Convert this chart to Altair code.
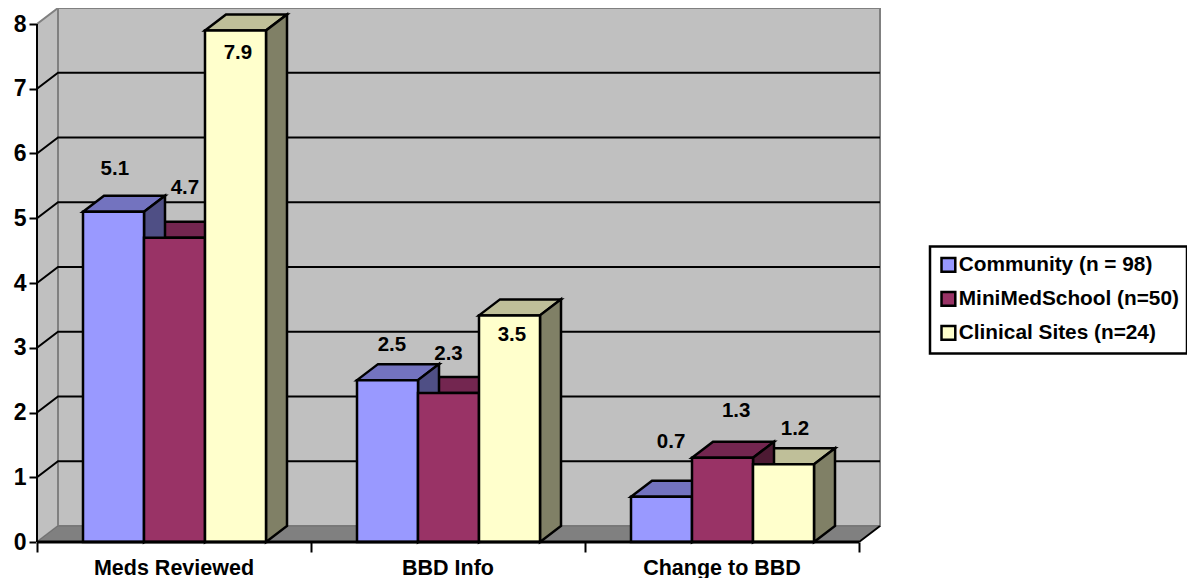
import altair as alt
import pandas as pd

categories = ["Meds Reviewed", "BBD Info", "Change to BBD"]
series = ["Community (n = 98)", "MiniMedSchool (n=50)", "Clinical Sites (n=24)"]
community = [5.1, 2.5, 0.7]
minimed = [4.7, 2.3, 1.3]
clinical = [7.9, 3.5, 1.2]
values = [community, minimed, clinical]
front_colors = ["#9999FF", "#993366", "#FFFFCC"]
top_colors = ["#7373BF", "#732650", "#BFBF99"]
side_colors = ["#4F4F85", "#4D1A33", "#808066"]
y_ticks = [0, 1, 2, 3, 4, 5, 6, 7, 8]
# label nudges (category units, value units) relative to the bar's top centre
label_nudge = {
    (0, 0): (0.005, 0.66), (0, 1): (0.038, 0.77), (0, 2): (0.009, -0.355),
    (1, 0): (0.016, 0.54), (1, 1): (0.0, 0.60), (1, 2): (0.009, -0.31),
    (2, 0): (0.035, 0.85), (2, 1): (0.05, 0.72), (2, 2): (0.042, 0.54),
}

PX_CAT = 274.0
PX_VAL = 64.75
DX = 21 / PX_CAT      # depth in x
DY = 16 / PX_VAL      # depth in y
BW = 61 / PX_CAT      # bar width
START = 46 / PX_CAT   # first bar offset in a category
XMAX = 3 + DX
YMAX = 8 + DY
W = 843
H = 534

x_scale = alt.Scale(domain=[0, XMAX], range=[0, W], nice=False, zero=False)
y_scale = alt.Scale(domain=[0, YMAX], range=[H, 0], nice=False, zero=False)
x_axis = alt.Axis(
    values=[0, 1, 2, 3], labels=False, title=None, domain=False, grid=False,
    ticks=True, tickSize=10, tickWidth=2, tickColor="black")
y_axis = alt.Axis(
    values=y_ticks, format="d", title=None, domain=False, grid=False,
    ticks=True, tickSize=8, tickWidth=2, tickColor="black", labelPadding=3,
    labelFont="Liberation Sans", labelFontWeight="bold", labelFontSize=23,
    labelColor="black")
X = alt.X("x:Q", scale=x_scale, axis=x_axis)
Y = alt.Y("y:Q", scale=y_scale, axis=y_axis)
Y2 = alt.Y2("y2:Q")


def poly_layer(rows, **mark):
    return alt.Chart(pd.DataFrame(rows)).mark_area(**mark).encode(
        x=X, y=Y, y2=Y2, detail="id:N",
        fill=alt.Fill("fill:N", scale=None),
    )


def band(pid, fill, pts):
    return [{"id": pid, "fill": fill, "x": a, "y": b, "y2": c} for a, b, c in pts]


# walls and floor
walls = []
walls += band("back", "#C0C0C0", [(DX, DY, YMAX), (XMAX, DY, YMAX)])
walls += band("side", "#C0C0C0", [(0, 0, 8), (DX, DY, YMAX)])
floor = band("floor", "#808080", [(0, 0, 0), (DX, 0, DY), (3, 0, DY), (XMAX, DY, DY)])

# gridlines
grid_rows = []
for t in y_ticks[1:-1]:
    grid_rows += [
        {"g": t, "x": 0, "y": t},
        {"g": t, "x": DX, "y": t + DY},
        {"g": t, "x": XMAX, "y": t + DY},
    ]
grid = alt.Chart(pd.DataFrame(grid_rows)).mark_line(color="black", strokeWidth=2).encode(
    x=X, y=Y, detail="g:N"
)

# bars
tops, sides, fronts, labels = [], [], [], []
for s, name in enumerate(series):
    for c in range(3):
        v = values[s][c]
        x0 = c + START + s * BW
        x1 = x0 + BW
        tops += band(f"t{s}{c}", top_colors[s], [(x0, v, v), (x0 + DX, v, v + DY), (x1, v, v + DY), (x1 + DX, v + DY, v + DY)])
        sides += band(f"s{s}{c}", side_colors[s], [(x1, 0, v), (x1 + DX, DY, v + DY)])
        fronts.append({"series": name, "x": x0, "x2": x1, "y": 0, "y2": v})
        nx, ny = label_nudge[(c, s)]
        labels.append({"x": (x0 + x1) / 2 + nx, "y": v + ny, "t": f"{v:.1f}"})

front_layer = alt.Chart(pd.DataFrame(fronts)).mark_rect(stroke="black", strokeWidth=2.5).encode(
    x=X, x2="x2:Q", y=Y, y2=Y2,
    color=alt.Color(
        "series:N",
        scale=alt.Scale(domain=series, range=front_colors),
        legend=alt.Legend(
            title=None, orient="none", legendX=893, legendY=238.5,
            fillColor="white", strokeColor="black", padding=8,
            symbolType="square", symbolSize=190, symbolStrokeColor="black",
            symbolStrokeWidth=2.5, symbolOpacity=1,
            labelFont="Liberation Sans", labelFontWeight="bold", labelFontSize=20.8,
            labelColor="black", labelOffset=0, rowPadding=9, labelLimit=400,
        ),
    ),
)

font = dict(font="Liberation Sans", fontWeight="bold", color="black")
label_layer = alt.Chart(pd.DataFrame(labels)).mark_text(fontSize=20.5, **font).encode(
    x=X, y=Y, text="t:N"
)

baseline = alt.Chart(pd.DataFrame({"x": [0], "x2": [3], "y": [0]})).mark_rule(
    color="black", strokeWidth=3).encode(x=X, x2="x2:Q", y=Y)
y_line = alt.Chart(pd.DataFrame({"x": [0], "y": [0], "y2": [8]})).mark_rule(
    color="black", strokeWidth=2).encode(x=X, y=Y, y2=Y2)
floor_edge = alt.Chart(pd.DataFrame({"x": [3, XMAX], "y": [0, DY]})).mark_line(
    color="black", strokeWidth=2).encode(x=X, y=Y)
cat_layer = alt.Chart(pd.DataFrame({
    "x": [0.5 + i for i in range(3)], "y": [0, 0, 0], "t": categories,
})).mark_text(fontSize=21.5, dy=27, baseline="middle", **font).encode(x=X, y=Y, text="t:N")

chart = alt.layer(
    poly_layer(walls, stroke="#808080", strokeWidth=2),
    poly_layer(floor, stroke="#707070", strokeWidth=1),
    grid,
    poly_layer(tops, stroke="black", strokeWidth=2.5),
    poly_layer(sides, stroke="black", strokeWidth=2.5),
    front_layer,
    baseline, y_line, floor_edge, label_layer, cat_layer,
).properties(
    width=W, height=H,
    padding={"left": 29, "top": 0, "right": 307, "bottom": 36},
    autosize=alt.AutoSizeParams(type="none"),
    background="white",
).configure_view(stroke=None).configure_legend(strokeWidth=2.5)

chart.save("out.html", embed_options={"renderer": "svg", "actions": False})
